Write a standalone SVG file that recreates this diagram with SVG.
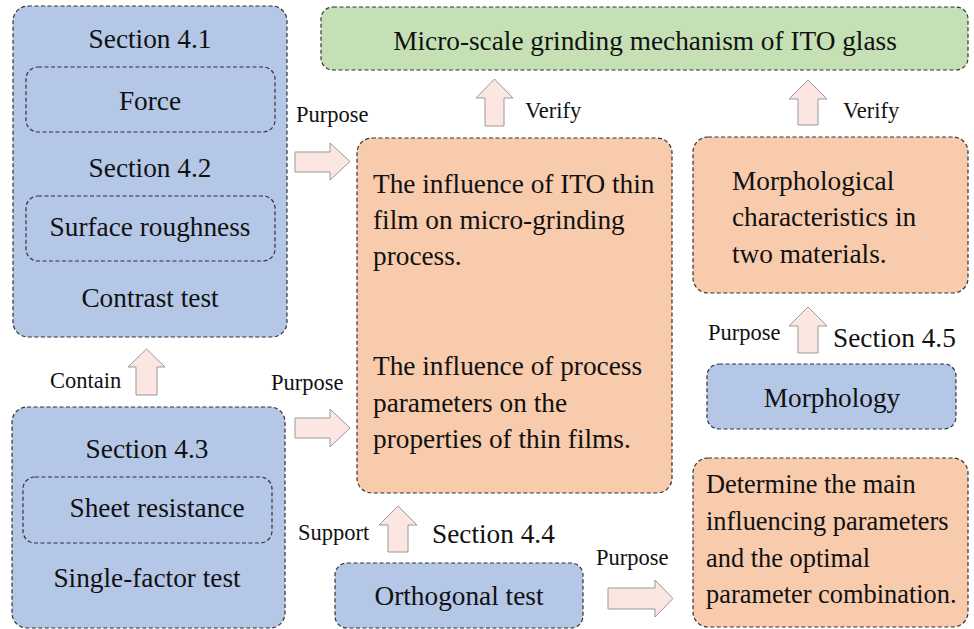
<svg xmlns="http://www.w3.org/2000/svg" width="974" height="629" viewBox="0 0 974 629" font-family="'Liberation Serif', 'Times New Roman', Tinos, 'DejaVu Serif', serif">
<style>
.box{stroke:#333;stroke-width:1.2;stroke-dasharray:4 2.5}
.blue{fill:#b4c7e7}
.orange{fill:#f8cbad}
.green{fill:#c5e0b4}
.inner{fill:none;stroke:#333;stroke-width:1.2;stroke-dasharray:4 2.5}
.arr{fill:#fce6e1;stroke:#999;stroke-width:1}
text{font-family:'Liberation Serif', 'Times New Roman', Tinos, 'DejaVu Serif', serif;fill:#111}
.big{font-size:27.3px}
.mid{font-size:26.4px}
.sm{font-size:22.5px}
.c{text-anchor:middle}
</style>
<rect width="974" height="629" fill="#fff"/>
<g id="connectors">
<polygon class="arr" points="494.5,79 513,98 504,98 504,126 485,126 485,98 476,98"/>
<polygon class="arr" points="808,80 827,99 818,99 818,125 798,125 798,99 789,99"/>
<polygon class="arr" points="808,307 827,326 818,326 818,353 798,353 798,326 789,326"/>
<polygon class="arr" points="146.5,349 165,367 157,367 157,395 136,395 136,367 128,367"/>
<polygon class="arr" points="398,506 417,525 408,525 408,552 388,552 388,525 379,525"/>
<polygon class="arr" points="295,152 330,152 330,143 350,161.5 330,180 330,172 295,172"/>
<polygon class="arr" points="295,418 330,418 330,409 350,428 330,447 330,438 295,438"/>
<polygon class="arr" points="608,588 655,588 655,580 673,598.5 655,617 655,609 608,609"/>
<text class="sm" x="296" y="122">Purpose</text>
<text class="sm" x="525" y="118">Verify</text>
<text class="sm" x="843" y="118">Verify</text>
<text class="sm" x="708" y="340">Purpose</text>
<text class="big" x="833" y="347">Section 4.5</text>
<text class="sm" x="50" y="388">Contain</text>
<text class="sm" x="271" y="390">Purpose</text>
<text class="sm" x="298" y="540">Support</text>
<text class="big" x="432" y="543">Section 4.4</text>
<text class="sm" x="596" y="565">Purpose</text>
</g>
<g id="n-left-top">
<rect class="box blue" x="13" y="6" width="274" height="331" rx="15"/>
<text class="big c" x="150" y="48">Section 4.1</text>
<rect class="inner" x="26" y="67" width="249" height="65" rx="12"/>
<text class="big c" x="150" y="110">Force</text>
<text class="big c" x="150" y="177">Section 4.2</text>
<rect class="inner" x="26" y="196" width="249" height="65" rx="12"/>
<text class="big c" x="150" y="236">Surface roughness</text>
<text class="big c" x="150" y="307">Contrast test</text>
</g>
<g id="n-left-bottom">
<rect class="box blue" x="12" y="407" width="273" height="221" rx="15"/>
<text class="big c" x="147" y="458">Section 4.3</text>
<rect class="inner" x="23" y="477" width="249" height="66" rx="12"/>
<text class="big c" x="157" y="517">Sheet resistance</text>
<text class="big c" x="147" y="587">Single-factor test</text>
</g>
<g id="n-green">
<rect class="box green" x="321" y="7" width="647" height="63" rx="12"/>
<text class="big c" x="645" y="50">Micro-scale grinding mechanism of ITO glass</text>
</g>
<g id="n-center">
<rect class="box orange" x="357" y="138" width="315" height="355" rx="15"/>
<text class="big" x="373" y="193">The influence of ITO thin</text>
<text class="big" x="373" y="229">film on micro-grinding</text>
<text class="big" x="373" y="265">process.</text>
<text class="big" x="373" y="375">The influence of process</text>
<text class="big" x="373" y="412">parameters on the</text>
<text class="big" x="373" y="448">properties of thin films.</text>
</g>
<g id="n-morph-char">
<rect class="box orange" x="693" y="137" width="275" height="156" rx="15"/>
<text class="big" x="732" y="190">Morphological</text>
<text class="big" x="732" y="226">characteristics in</text>
<text class="big" x="732" y="263">two materials.</text>
</g>
<g id="n-morphology">
<rect class="box blue" x="707" y="364" width="249" height="65" rx="12"/>
<text class="big c" x="832" y="407">Morphology</text>
</g>
<g id="n-determine">
<rect class="box orange" x="693" y="458" width="275" height="169" rx="15"/>
<text class="mid" x="706" y="493">Determine the main</text>
<text class="mid" x="706" y="530">influencing parameters</text>
<text class="mid" x="706" y="567">and the optimal</text>
<text class="mid" x="706" y="603">parameter combination.</text>
</g>
<g id="n-orthogonal">
<rect class="box blue" x="335" y="563" width="248" height="65" rx="12"/>
<text class="big c" x="459" y="605">Orthogonal test</text>
</g>
</svg>
